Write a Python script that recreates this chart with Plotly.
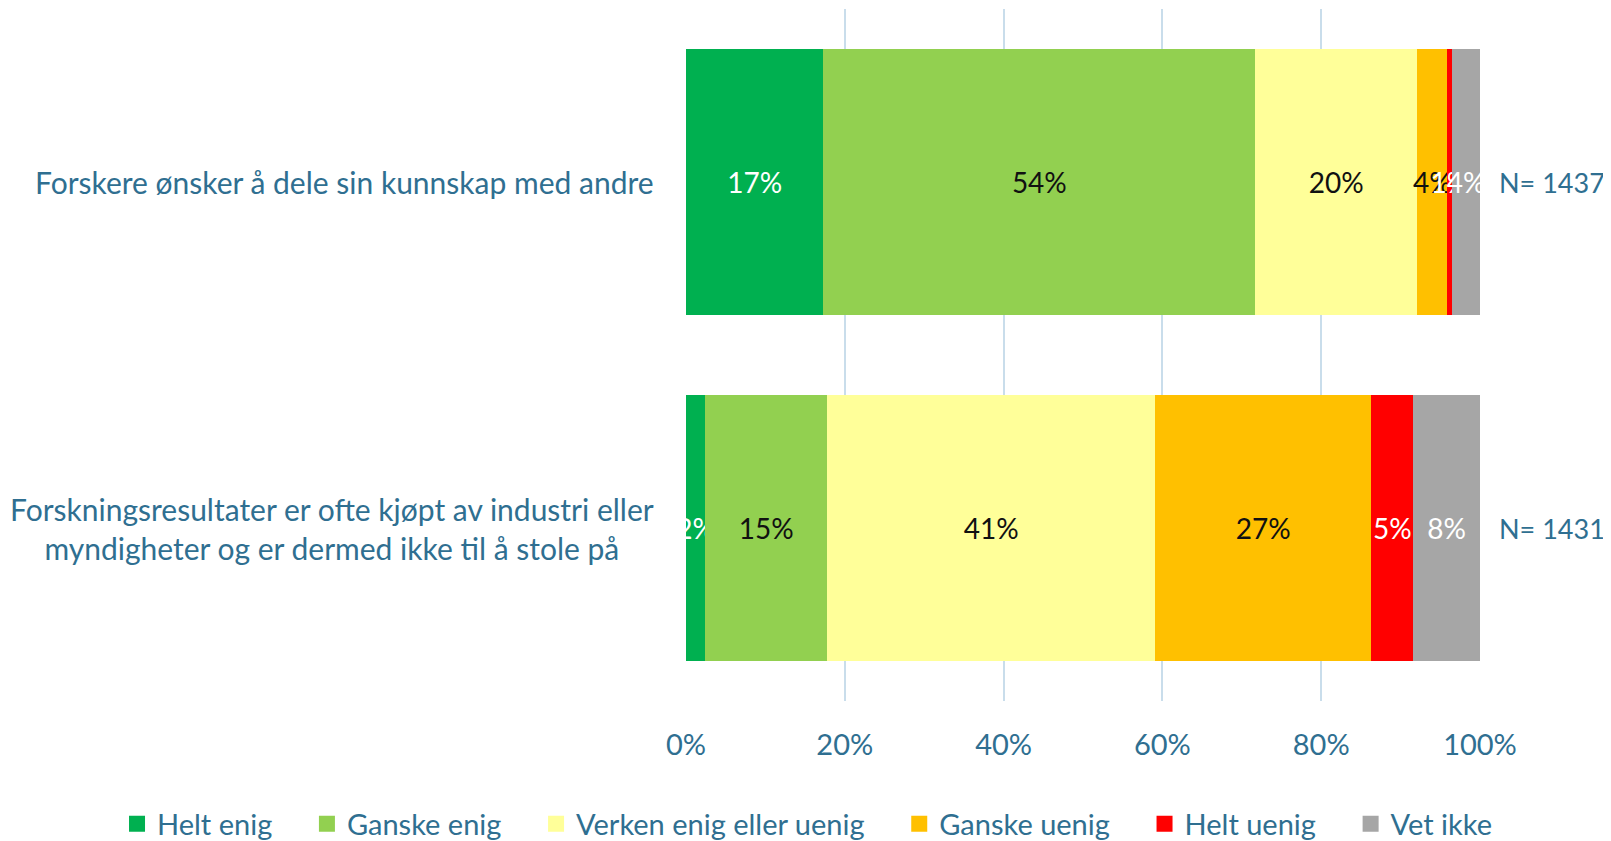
import plotly.graph_objects as go

categories = [
    "Forskere ønsker å dele sin kunnskap med andre",
    "Forskningsresultater er ofte kjøpt av industri eller<br>myndigheter og er dermed ikke til å stole på",
]
series_names = ["Helt enig", "Ganske enig", "Verken enig eller uenig",
                "Ganske uenig", "Helt uenig", "Vet ikke"]
helt_enig = [17.3, 2.4]
ganske_enig = [54.4, 15.4]
verken = [20.4, 41.3]
ganske_uenig = [3.8, 27.2]
helt_uenig = [0.6, 5.3]
vet_ikke = [3.5, 8.4]
n_values = [1437, 1431]
tick_vals = [0, 20, 40, 60, 80, 100]
tick_text = ["0%", "20%", "40%", "60%", "80%", "100%"]

series_values = [helt_enig, ganske_enig, verken, ganske_uenig, helt_uenig, vet_ikke]
colors = ["#00B050", "#92D050", "#FFFF99", "#FFC000", "#FF0000", "#A6A6A6"]
text_colors = ["#FFFFFF", "#111111", "#111111", "#111111", "#FFFFFF", "#FFFFFF"]

FONT = "Lato"
BLUE = "#2F6F91"
PAD = "\u00a0" * 4  # extra spacing between legend entries

fig = go.Figure()
for name, vals, col, tcol in zip(series_names, series_values, colors, text_colors):
    fig.add_trace(go.Bar(
        y=categories, x=vals, orientation="h", name=name,
        marker=dict(color=col, line=dict(width=0)),
        texttemplate="%{x:.0f}%", textposition="inside",
        insidetextanchor="middle", textangle=0,
        textfont=dict(color=tcol, size=28, family=FONT),
        showlegend=False, hoverinfo="x+name",
    ))
# legend entries with larger square markers
for name, col in zip(series_names, colors):
    fig.add_trace(go.Scatter(
        x=[None], y=[None], mode="markers", name=name + PAD,
        marker=dict(symbol="square", size=16, color=col),
        showlegend=True, hoverinfo="skip",
    ))

annotations = []
for cat in categories:
    annotations.append(dict(
        x=0, xref="paper", y=cat, yref="y", text=cat,
        xanchor="right", yanchor="middle", align="center", xshift=-30,
        showarrow=False, font=dict(size=30, color=BLUE, family=FONT),
    ))
for cat, n in zip(categories, n_values):
    annotations.append(dict(
        x=100, xref="x", y=cat, yref="y", text=f"N= {n}",
        xanchor="left", yanchor="middle", xshift=17,
        showarrow=False, font=dict(size=27, color=BLUE, family=FONT),
    ))

fig.update_layout(
    width=1603, height=833,
    margin=dict(l=678, r=131, t=1, b=140, autoexpand=False),
    barmode="stack", bargap=0.23,
    plot_bgcolor="white", paper_bgcolor="white",
    font=dict(family=FONT, color=BLUE, size=29),
    uniformtext=dict(minsize=28, mode="show"),
    xaxis=dict(
        range=[0, 100], tickvals=tick_vals, ticktext=tick_text,
        showgrid=True, gridcolor="#C9DDEB", gridwidth=2,
        zeroline=False, showline=False,
        tickfont=dict(size=29, color=BLUE, family=FONT),
        ticklabelstandoff=24,
    ),
    yaxis=dict(
        autorange="reversed", showticklabels=False, showgrid=False,
        zeroline=False, showline=False,
    ),
    legend=dict(
        orientation="h", x=-0.7166, xanchor="left", y=-0.1777, yanchor="middle",
        font=dict(size=29, color=BLUE, family=FONT), itemwidth=30,
        traceorder="normal",
    ),
    annotations=annotations,
)

fig.write_html("out.html")
